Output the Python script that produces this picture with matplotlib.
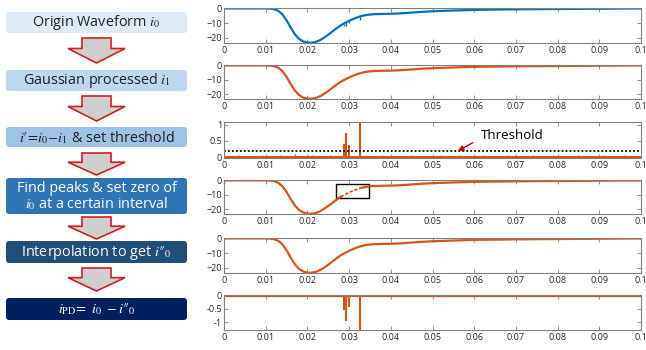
import numpy as np
import matplotlib
matplotlib.use('Agg')
import matplotlib.pyplot as plt
from matplotlib.patches import FancyBboxPatch, Polygon, Rectangle

plt.rcParams['font.family'] = ['Open Sans', 'DejaVu Sans']
plt.rcParams['mathtext.fontset'] = 'stix'

# 波形采样点 (s, A)
t_wave = [0, 0.005, 0.010, 0.011, 0.012, 0.013, 0.014, 0.015, 0.016, 0.017, 0.018, 0.019,
          0.020, 0.021, 0.022, 0.023, 0.024, 0.025, 0.026, 0.027, 0.028, 0.029, 0.030,
          0.031, 0.032, 0.033, 0.034, 0.035, 0.036, 0.038, 0.040, 0.042, 0.044, 0.046,
          0.048, 0.050, 0.055, 0.060, 0.065, 0.070, 0.080, 0.090, 0.100]
i_wave = [0, 0, 0, -0.1, -0.5, -1.6, -4.0, -8.0, -13.0, -17.5, -20.6, -22.4,
          -23.1, -23.2, -22.7, -21.5, -19.8, -17.8, -15.6, -13.4, -11.4, -9.8, -8.4,
          -7.1, -6.0, -5.1, -4.5, -4.1, -3.9, -3.7, -3.6, -3.4, -3.0, -2.6,
          -2.2, -1.9, -1.4, -1.0, -0.8, -0.6, -0.4, -0.2, 0]

# 局放脉冲
spike_t = [0.0287, 0.0293, 0.0300, 0.0327]
spike_i0 = [-1.8, -2.4, -1.5, -2.6]
spike_diff = [0.42, 0.76, 0.36, 1.2]
spike_pd = [-0.55, -0.95, -0.42, -1.5]

# 差分信号的噪声
noise_t = [0.0035, 0.009, 0.0135, 0.017, 0.021, 0.0255, 0.034, 0.038, 0.045, 0.052,
           0.0565, 0.062, 0.068, 0.074, 0.079, 0.085, 0.091, 0.096]
noise_v = [0.06, 0.05, 0.05, 0.08, 0.05, 0.06, 0.07, 0.05, 0.06, 0.05,
           0.07, 0.05, 0.06, 0.05, 0.06, 0.07, 0.05, 0.06]
threshold = 0.2

steps = ['Origin Waveform $i_0$',
         'Gaussian processed $i_1$',
         "$i\u2032\\!=\\!i_0\\!-\\!i_1$ & set threshold",
         'Find peaks & set zero of\n$i_0$ at a certain interval',
         "Interpolation to get $i\u2033_0$",
         "$i_{\\mathrm{PD}}\\!=\\ i_0\\ -i\u2033_0$"]
box_colors = ['#DEEBF7', '#BDD7EE', '#9DC3E6', '#2E75B6', '#1F4E79', '#002060']
text_colors = ['#222222', '#222222', '#222222', 'white', 'white', 'white']
box_y = [(12, 33), (70, 91), (127, 147), (178, 214), (241, 263), (298, 320)]
arrow_y = [(38, 63), (96, 121), (153, 175), (217, 239), (268, 291)]

blue = '#0072BD'
orange = '#D95319'
W, H = 646, 350

fig = plt.figure(figsize=(6.46, 3.5), dpi=100)

# 左侧流程图
ax0 = fig.add_axes([0, 0, 1, 1])
ax0.set_xlim(0, W)
ax0.set_ylim(H, 0)
ax0.axis('off')
for k in range(6):
    y0, y1 = box_y[k]
    ax0.add_patch(FancyBboxPatch((6, y0), 181, y1 - y0,
                                 boxstyle='round,pad=0,rounding_size=3',
                                 fc=box_colors[k], ec='none'))
    ax0.text(96.5, (y0 + y1) / 2 + 0.5, steps[k], ha='center', va='center',
             fontsize=10.4, color=text_colors[k], linespacing=1.0)
for y0, y1 in arrow_y:
    ym = y0 + (y1 - y0) * 0.42
    pts = [(82, y0), (111, y0), (111, ym), (125, ym), (96.5, y1), (68, ym), (82, ym)]
    ax0.add_patch(Polygon(pts, closed=True, fc='#CFCFCF', ec='#D02020', lw=1.2))

# 右侧波形
panels = [(8, 43), (65, 99), (122, 158), (180, 214), (238, 273), (295, 330)]
axes = []
for top, bot in panels:
    ax = fig.add_axes([224 / W, 1 - bot / H, (641 - 224) / W, (bot - top) / H])
    ax.set_xlim(0, 0.1)
    ax.set_xticks(np.arange(0, 0.101, 0.01))
    ax.set_xticklabels(['0'] + ['%.2f' % v for v in np.arange(0.01, 0.095, 0.01)] + ['0.1'])
    ax.tick_params(direction='in', length=3, width=0.6, labelsize=6.5, colors='#808080',
                   labelcolor='#262626', top=True, right=True, pad=2.5)
    ax.tick_params(axis='y', pad=1.5)
    for s in ax.spines.values():
        s.set_color('#808080')
        s.set_linewidth(0.8)
    axes.append(ax)

t_wave = np.array(t_wave)
i_wave = np.array(i_wave)

# 1 原始波形
ax = axes[0]
ax.plot(t_wave, i_wave, color=blue, lw=1.6)
base = np.interp(spike_t, t_wave, i_wave)
ax.vlines(spike_t, base, base + np.array(spike_i0), color=blue, lw=1.0)
ax.set_ylim(-23.4, 0.3)
ax.set_yticks([-20, -10, 0])

# 2 高斯滤波后
ax = axes[1]
ax.plot(t_wave, i_wave, color=orange, lw=1.6)
ax.set_ylim(-23.4, 0.3)
ax.set_yticks([-20, -10, 0])

# 3 差分 + 阈值
ax = axes[2]
ax.plot([0, 0.1], [0.015, 0.015], color=orange, lw=2.2)
ax.vlines(noise_t, 0, noise_v, color=orange, lw=0.8)
ax.vlines(spike_t, 0, spike_diff, color=orange, lw=1.5)
ax.plot([0, 0.1], [threshold, threshold], color='black', lw=1.3, ls=(0, (1, 1.2)))
ax.set_ylim(-0.03, 1.09)
ax.set_yticks([0, 0.5, 1])
ax.set_yticklabels(['0', '0.5', '1'])
ax.annotate('Threshold', xy=(0.0561, 0.19), xytext=(0.0615, 0.66),
            fontsize=9.5, ha='left', va='center', annotation_clip=False,
            arrowprops=dict(arrowstyle='-|>', color='#C00000', lw=1.0,
                            mutation_scale=8, shrinkA=4, shrinkB=0,
                            relpos=(0, 0.3)))

# 4 找峰值并置零
ax = axes[3]
ax.plot(np.where(t_wave <= 0.0285, t_wave, np.nan), i_wave, color=orange, lw=1.6)
ax.plot(np.where(t_wave >= 0.033, t_wave, np.nan), i_wave, color=orange, lw=1.6)
mid = (t_wave >= 0.028) & (t_wave <= 0.0335)
ax.plot(t_wave[mid], i_wave[mid], color=orange, lw=1.2, ls=(0, (2, 1)))
ax.add_patch(Rectangle((0.0269, -12.3), 0.0079, 9.7, fill=False, ec='black', lw=1.0))
ax.set_ylim(-23.4, 0.3)
ax.set_yticks([-20, -10, 0])

# 5 插值
ax = axes[4]
ax.plot(t_wave, i_wave, color=orange, lw=1.6)
ax.set_ylim(-23.4, 0.3)
ax.set_yticks([-20, -10, 0])

# 6 局放信号
ax = axes[5]
ax.plot([0, 0.1], [0, 0], color=orange, lw=1.6)
ax.vlines(spike_t, 0, spike_pd, color=orange, lw=1.5)
ax.set_ylim(-1.3, 0.03)
ax.set_yticks([-1, -0.5, 0])
ax.set_yticklabels(['-1', '-0.5', '0'])

fig.savefig('out.png', dpi=100)
